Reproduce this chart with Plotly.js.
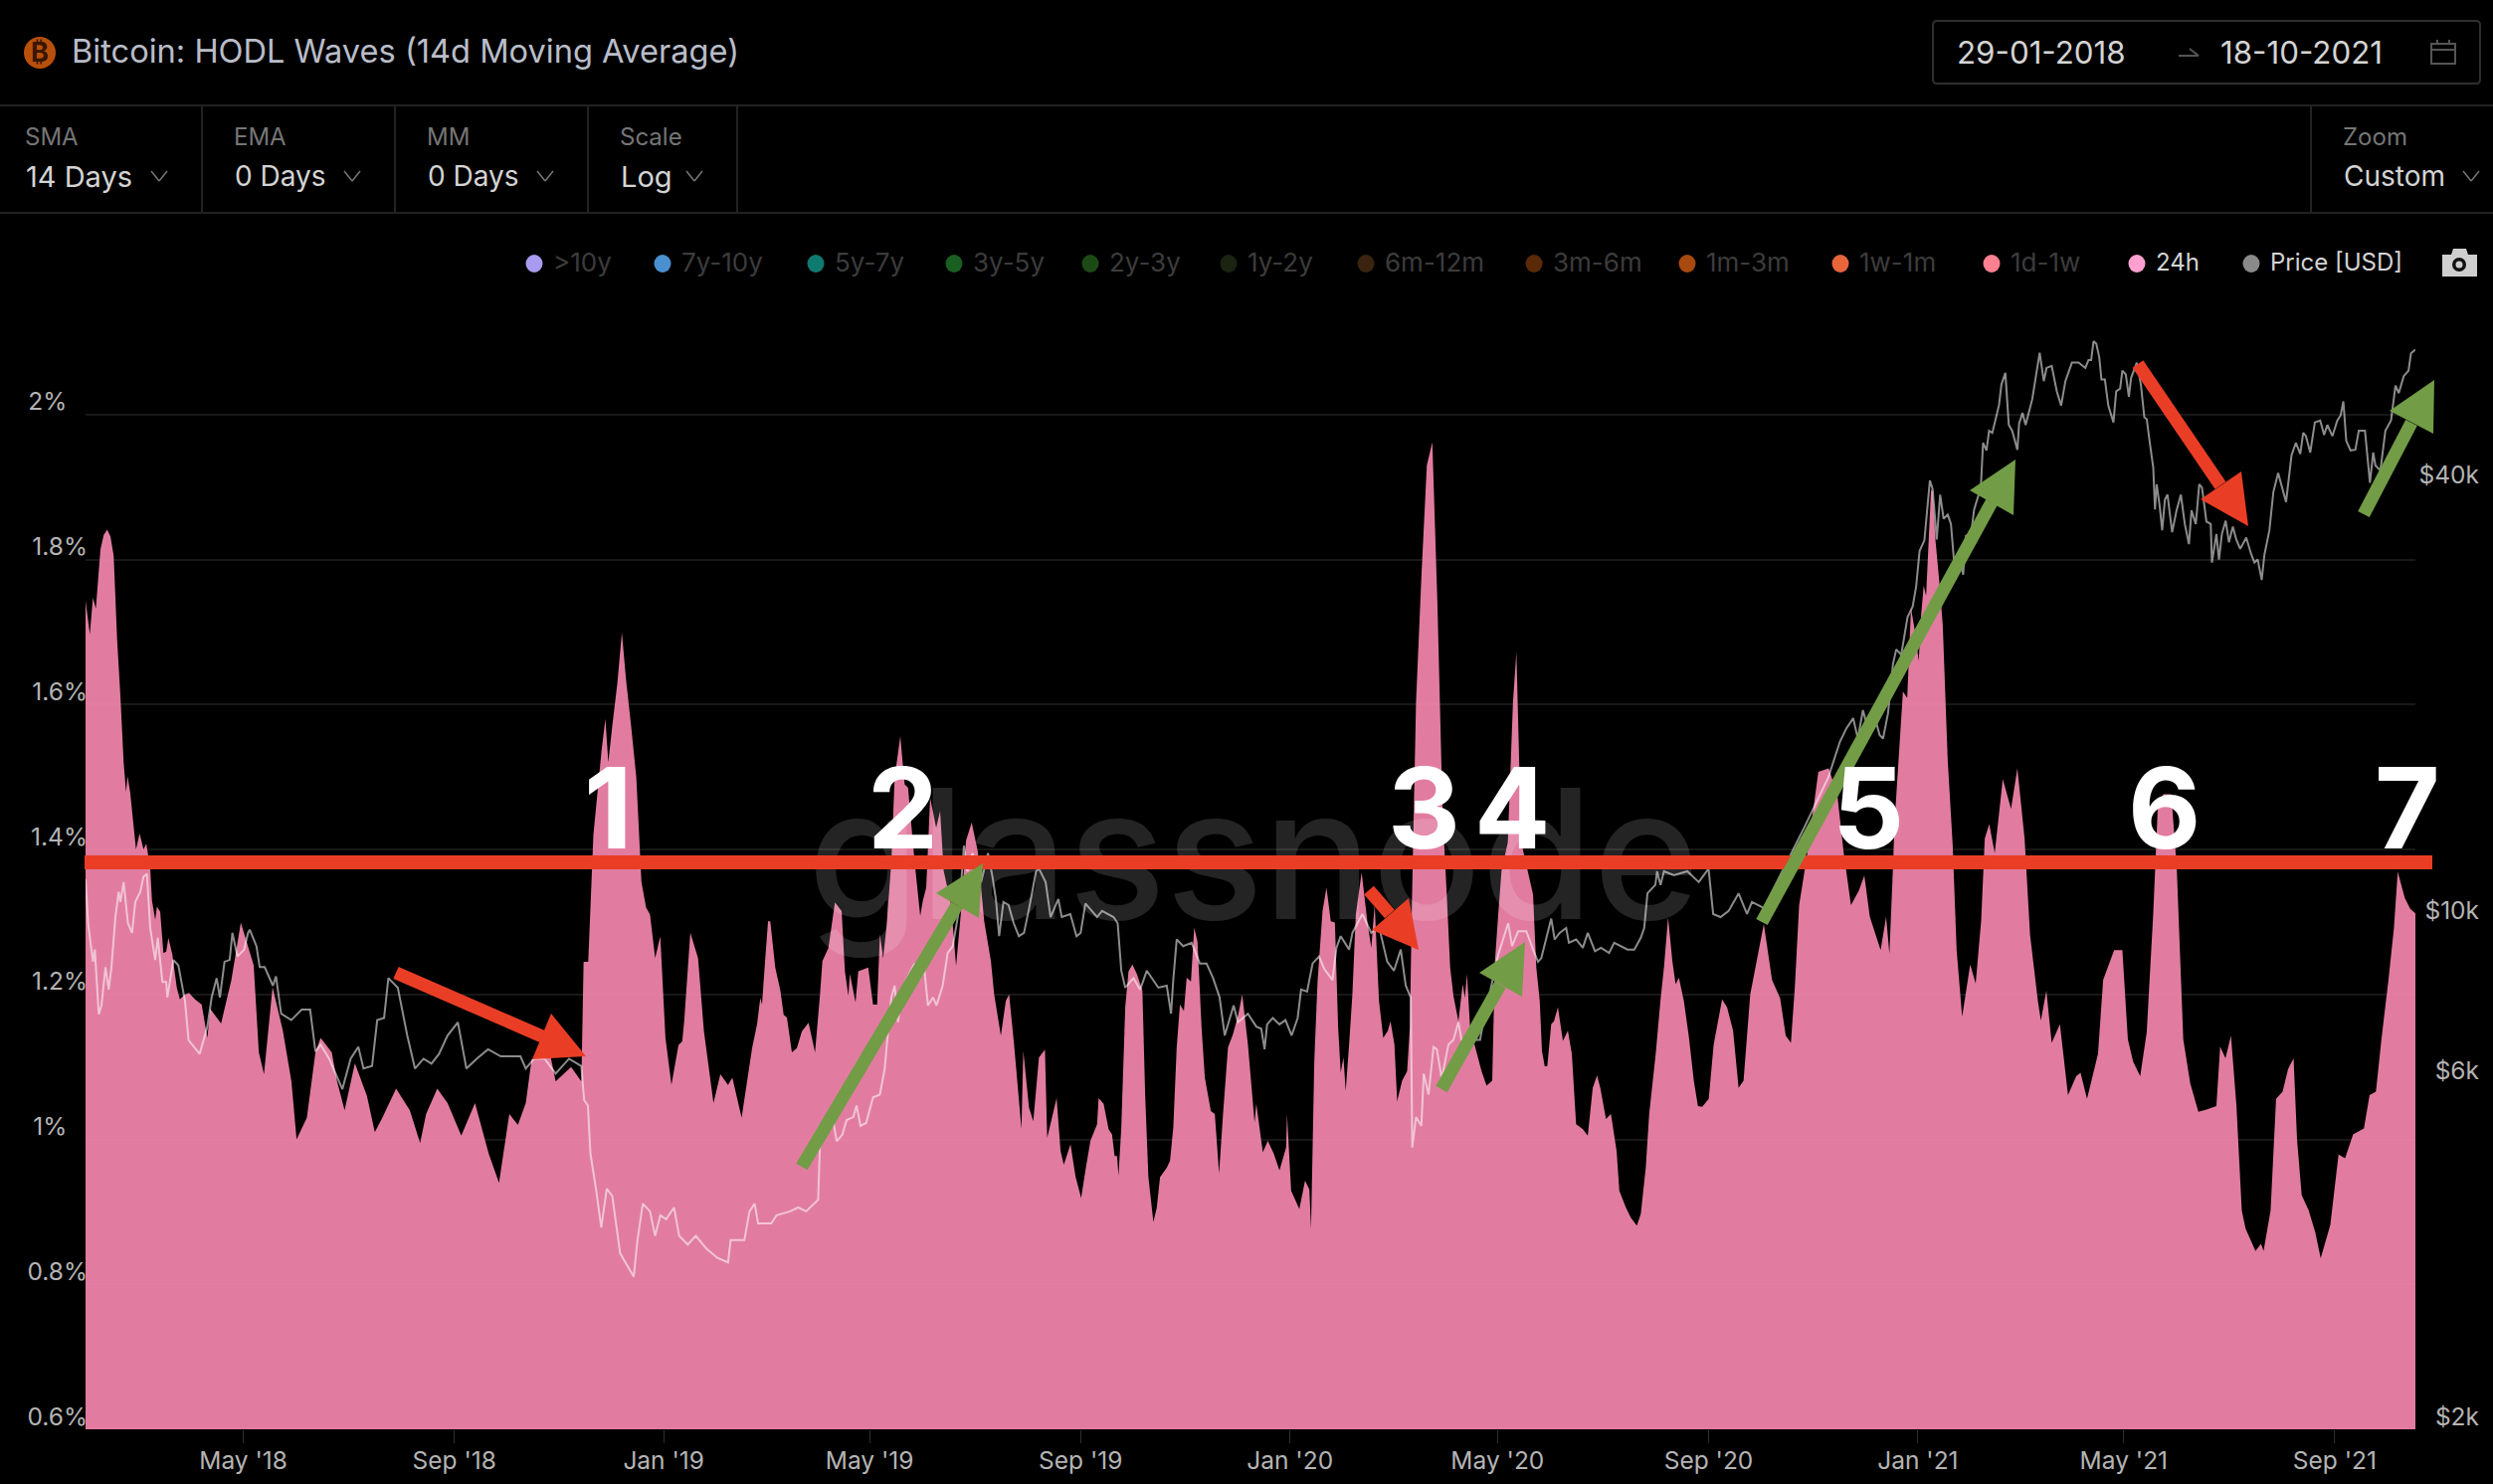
<!DOCTYPE html>
<html>
<head>
<meta charset="utf-8">
<script src="https://cdn.plot.ly/plotly-3.0.1.min.js"></script>
<style>html,body{margin:0;padding:0;background:#000}#chart{width:2506px;height:1492px}</style>
</head>
<body>
<div id="chart"></div>
<script>
const startDate = Date.UTC(2018, 0, 29);
const endDate = '2021-10-18';

// [days since 29-01-2018, share of supply in %]
const hodl24h = [[0,1.743],[2.5,1.697],[4.3,1.747],[6,1.732],[8.7,1.814],[10.6,1.834],[12.6,1.841],[14.5,1.832],[16.4,1.805],[18.4,1.69],[20.3,1.612],[22.2,1.52],[23.6,1.479],[24.5,1.501],[26,1.479],[29.4,1.4],[31.5,1.422],[33.8,1.4],[35.4,1.408],[37.7,1.374],[38.7,1.33],[40.6,1.303],[41.6,1.321],[43.5,1.314],[45.4,1.257],[47,1.259],[48.3,1.278],[50.6,1.255],[53.2,1.209],[55,1.193],[58,1.2],[60.3,1.202],[63.8,1.193],[67.7,1.186],[71,1.14],[72.7,1.18],[79,1.16],[85,1.22],[90.5,1.299],[98,1.24],[101,1.12],[104,1.09],[109,1.21],[115,1.15],[120,1.08],[123,1.0],[129,1.03],[134,1.12],[137,1.14],[143.5,1.12],[146.6,1.08],[151,1.04],[157,1.105],[164,1.06],[168.6,1.01],[173,1.03],[181,1.07],[189,1.04],[195,0.995],[198.5,1.035],[205,1.07],[211,1.05],[219,1.005],[227,1.05],[235,0.98],[241,0.94],[247,1.035],[252,1.02],[256.6,1.05],[260,1.11],[264.5,1.115],[271,1.115],[274,1.08],[283,1.1],[289,1.08],[290.3,1.245],[293,1.245],[296,1.42],[300.7,1.535],[303,1.58],[304.7,1.52],[307,1.57],[310,1.63],[312.6,1.699],[315,1.635],[318,1.57],[321,1.5],[324,1.355],[326.7,1.32],[329,1.31],[332,1.25],[335,1.28],[338,1.14],[341.5,1.075],[345.6,1.13],[347.8,1.135],[349,1.165],[352.5,1.285],[357,1.25],[360.4,1.15],[366,1.05],[370,1.09],[374.5,1.075],[377,1.085],[382.4,1.03],[388.5,1.126],[391.4,1.159],[393.3,1.195],[394.3,1.186],[395.8,1.237],[397.8,1.301],[399.1,1.301],[402,1.237],[405,1.205],[406.9,1.172],[408.8,1.168],[411.7,1.12],[414.6,1.126],[417.5,1.149],[421.4,1.161],[425.2,1.12],[428.1,1.2],[429.5,1.246],[433,1.264],[436.8,1.327],[440.7,1.315],[442.6,1.232],[444.6,1.198],[445.5,1.228],[448.8,1.189],[450.4,1.232],[456.2,1.237],[459,1.186],[461.4,1.186],[463,1.283],[464.9,1.25],[466.8,1.292],[469.7,1.384],[471.6,1.499],[474.9,1.556],[477.4,1.49],[479.4,1.485],[483.2,1.384],[485.2,1.338],[486.5,1.308],[488,1.329],[490,1.347],[492.3,1.471],[495.8,1.43],[498.1,1.453],[500.2,1.37],[504.5,1.324],[507.4,1.239],[510.3,1.315],[513.2,1.412],[516.5,1.437],[520,1.398],[523.8,1.301],[527.7,1.246],[529.6,1.2],[533.5,1.143],[536.4,1.191],[538.3,1.2],[541.2,1.131],[545.5,1.014],[546.6,1.122],[549.9,1.044],[552.4,1.025],[555.7,1.113],[559.2,1.124],[560.5,1.002],[566,1.057],[568.3,0.984],[570.2,0.965],[574.1,0.993],[577,0.949],[580.3,0.919],[582.8,0.957],[585.7,0.998],[589.6,1.021],[590.5,1.057],[593.4,1.049],[596.3,1.014],[598.3,1.007],[599.8,0.977],[601.2,0.977],[602.1,0.95],[603.7,1.016],[606,1.182],[607.9,1.232],[610.2,1.241],[612.8,1.228],[616,1.205],[617.6,1.062],[619.5,0.948],[622.4,0.886],[624.4,0.906],[626.3,0.948],[630.2,0.961],[632.1,0.97],[634,1.016],[636,1.127],[637.9,1.186],[640.2,1.177],[641.8,1.223],[644.3,1.218],[646.2,1.292],[648.1,1.273],[650.5,1.154],[652.4,1.085],[655.9,1.039],[658.2,1.035],[660.7,0.953],[663,1.035],[665.9,1.127],[668.8,1.145],[671.7,1.17],[674.2,1.2],[677.5,1.131],[681.4,1.023],[682.4,1.049],[686.2,0.982],[689.1,0.998],[692.6,0.98],[695.9,0.957],[699.8,0.989],[700.3,1.035],[702.7,0.929],[707.5,0.904],[710.8,0.943],[713.3,0.931],[714.3,0.876],[716.2,1.108],[718.1,1.218],[721,1.315],[723.3,1.347],[725.8,1.301],[728.2,1.299],[730.1,1.154],[731.6,1.092],[733.2,1.113],[734.5,1.067],[736.5,1.131],[738.4,1.2],[740.4,1.31],[743.8,1.368],[747.1,1.301],[749.4,1.264],[751.4,1.324],[753.9,1.191],[756.4,1.14],[759.1,1.15],[760.6,1.163],[762.9,1.131],[764.5,1.053],[767.4,1.081],[770.3,1.094],[771.9,1.154],[773.2,1.338],[775.5,1.603],[778.6,1.775],[781.8,1.93],[785,1.962],[788,1.736],[791,1.449],[793.4,1.338],[795.4,1.237],[797.3,1.198],[800.2,1.163],[802.7,1.214],[804,1.195],[805.2,1.228],[807,1.154],[813.7,1.094],[816.6,1.074],[819.9,1.081],[821.5,1.246],[823.4,1.31],[825.3,1.37],[829,1.41],[832,1.603],[834,1.672],[836.8,1.41],[843.7,1.338],[845.6,1.237],[847.6,1.191],[848.9,1.122],[850.5,1.101],[852,1.101],[854.3,1.159],[855.9,1.163],[858.2,1.182],[861.1,1.136],[864,1.15],[866.3,1.118],[868.8,1.021],[872.7,1.014],[875.6,1.005],[878.5,1.071],[881,1.088],[882.9,1.071],[886.2,1.028],[889.1,1.035],[892.4,0.984],[894,0.929],[897.8,0.906],[900.7,0.892],[904.2,0.881],[906.5,0.897],[909.4,0.961],[911.4,1.035],[915.2,1.118],[918.1,1.195],[920,1.237],[922.4,1.306],[924.9,1.246],[926.8,1.214],[928.7,1.223],[931.6,1.191],[934.6,1.14],[937.4,1.081],[939.8,1.046],[942.3,1.045],[946.1,1.056],[949,1.131],[953.9,1.193],[956.8,1.182],[960.3,1.15],[963.5,1.071],[966.4,1.081],[970.3,1.2],[978.2,1.297],[983,1.22],[987.7,1.195],[991,1.143],[994,1.133],[996.3,1.21],[998.8,1.323],[1003.6,1.395],[1010,1.507],[1016,1.512],[1021,1.476],[1024.8,1.395],[1029,1.323],[1033.6,1.343],[1036.8,1.364],[1040,1.307],[1046.3,1.261],[1049.5,1.307],[1051.4,1.256],[1053.3,1.364],[1054.4,1.436],[1059.3,1.618],[1061.8,1.609],[1064,1.733],[1066,1.705],[1068.5,1.66],[1069.9,1.723],[1071.4,1.764],[1072.8,1.75],[1075.7,1.897],[1076.6,1.892],[1078.2,1.828],[1080.5,1.769],[1082.5,1.71],[1085.4,1.523],[1088.3,1.406],[1090.6,1.261],[1093.8,1.169],[1098.5,1.241],[1101.7,1.215],[1104.9,1.302],[1107,1.415],[1109.6,1.435],[1112.8,1.395],[1117.5,1.497],[1122.3,1.456],[1126,1.512],[1130.2,1.415],[1133.4,1.282],[1138,1.19],[1139.7,1.164],[1142.9,1.205],[1146,1.133],[1150.8,1.159],[1155.5,1.061],[1160.3,1.087],[1162.8,1.092],[1166.6,1.056],[1173,1.118],[1176,1.22],[1182.4,1.261],[1187.2,1.261],[1190.4,1.138],[1193.5,1.107],[1197.6,1.087],[1201.4,1.148],[1205.2,1.312],[1207.8,1.456],[1211,1.476],[1215.7,1.476],[1218.9,1.374],[1222.7,1.138],[1226.8,1.077],[1231.5,1.038],[1236.3,1.041],[1242,1.046],[1244.2,1.128],[1247.3,1.112],[1250.5,1.143],[1253.7,1.046],[1256.8,0.902],[1259,0.877],[1264.8,0.846],[1268,0.856],[1269.5,0.846],[1273.6,0.902],[1276.8,1.056],[1280.6,1.066],[1283.8,1.097],[1287,1.112],[1289,1.0],[1291.7,0.923],[1295.8,0.902],[1299.6,0.872],[1302.8,0.836],[1308.4,0.882],[1313.2,0.979],[1317,0.974],[1321.7,1.007],[1328,1.015],[1331.3,1.061],[1335,1.066],[1338.2,1.138],[1342.3,1.22],[1345.5,1.292],[1347.7,1.369],[1351.8,1.333],[1355,1.318],[1358,1.312]];

// [days since 29-01-2018, price in USD]
const priceUsd = [[0,11500],[1.5,10000],[4.3,8850],[5.4,9200],[7.7,7490],[9.3,7700],[11.6,8700],[13.5,8100],[15.1,8700],[17.4,10200],[19.3,11050],[20.3,10700],[22.2,11400],[24.7,10000],[27.1,9700],[29,10700],[31.9,11050],[33.8,11600],[35.8,11700],[37.7,9850],[40.6,8900],[42.1,9550],[44.8,8300],[47,8300],[47.7,7900],[51.2,8900],[54.1,8750],[58,7800],[60,6900],[66.5,6600],[71,7200],[73.5,7900],[76.4,8400],[78.3,7900],[81,8850],[84,8900],[85.6,9700],[88.5,9000],[92.4,9200],[94.7,9700],[95.7,9800],[99.6,9300],[101.5,8700],[104.4,8700],[109.2,8200],[111,8450],[114,7500],[119.9,7350],[126,7600],[130.9,7600],[134,6650],[137,6800],[142,6500],[149.7,5900],[154.5,6500],[159,6750],[162,6300],[167,6350],[170,7350],[174,7400],[176.5,8400],[182,8150],[187.5,7000],[192,6300],[197,6500],[201.6,6400],[206,6600],[211,7000],[217,7300],[222,6300],[228,6500],[234.6,6700],[242,6550],[253.5,6550],[256.6,6300],[261.4,6500],[267.6,6500],[274,6200],[281.8,6500],[289,6350],[290.6,5700],[292.8,5600],[294.3,4800],[297.5,4300],[300.6,3800],[303.8,4300],[307,4200],[311.6,3500],[319.5,3250],[321.7,3650],[324.8,4100],[329,4000],[332,3700],[335,3950],[338.4,3900],[343,4050],[346,3700],[351,3600],[355.7,3700],[362,3550],[368.3,3450],[374.5,3400],[376,3650],[384,3650],[387,4000],[390,4100],[392,3850],[399.6,3850],[402.8,3950],[410.7,4000],[415.4,4050],[420,4000],[427,4150],[428,4900],[432,5200],[436,5300],[437.8,5000],[441,5100],[443.6,5350],[447.5,5400],[449.4,5600],[451.7,5250],[455,5300],[459,5750],[463,5800],[465.8,6300],[467.8,7100],[469.7,7900],[471.6,8200],[473.6,7300],[475.5,8100],[483.2,8800],[485,8300],[489,8600],[491,7700],[494,7900],[496,7700],[499.6,8200],[502.5,9100],[505.5,9300],[509.3,10500],[512,12800],[514,11800],[517,12500],[522,11400],[526,12500],[528.6,11600],[530.6,10800],[532.5,9600],[535,10700],[538,10600],[541,10000],[544,9600],[547,9700],[550,10500],[554,11800],[555.7,11900],[559.6,11400],[562.5,10200],[567,10800],[569,10200],[574,10300],[577.6,9600],[580,9700],[582.8,10650],[586.7,10400],[589.6,10200],[592.5,10400],[599.2,10200],[601.6,10000],[603.7,8600],[606,8150],[610.8,8400],[614.7,8100],[618.6,8600],[625.3,8150],[630.2,8200],[632.7,7500],[634,8350],[636,9500],[639.8,9300],[644.7,9400],[649.5,8800],[653.4,8800],[657.2,8400],[661,7900],[664,7000],[667,7400],[669.2,7700],[671.7,7300],[677.5,7500],[682.4,7200],[685.3,7150],[687.2,6700],[688.7,7250],[692,7400],[695.9,7250],[699.4,7350],[703,7000],[706.5,7400],[708.5,8100],[712,8050],[715.2,8800],[719,9000],[722,8650],[726.8,8350],[729.1,9250],[731.6,9600],[736.5,9200],[738.4,9700],[744.2,10300],[749.4,9700],[753.9,9900],[758.7,8850],[762.6,8600],[766.6,9200],[769.5,8200],[772.4,7900],[773.3,4900],[775.5,5400],[778.6,5250],[780,6200],[782.8,5800],[785.7,6750],[787.6,6700],[790.5,6100],[794.4,6800],[797.3,6900],[800.2,7300],[802,6900],[812.8,6900],[814.7,7300],[823.4,9050],[829.2,10000],[831.5,9300],[835,9750],[839.8,9750],[843.7,9200],[846.6,8850],[848.5,8950],[851.4,9500],[854.3,10150],[856.3,9500],[859.2,9700],[863,9850],[864.6,9400],[868.8,9500],[872.7,9250],[875.6,9700],[879.8,9150],[883.3,9250],[888,9100],[891,9400],[898.8,9200],[902.7,9200],[906.5,9550],[908.5,9850],[910.4,11000],[915,11300],[916,11800],[918,11300],[920,11800],[925.8,11650],[933.6,11800],[940.3,11400],[946,11900],[948.7,10300],[953,10200],[957.7,10400],[963.5,11000],[968.4,10300],[971.3,10700],[978.2,10500],[996.4,12800],[1002,13600],[1015.8,15900],[1022.5,17800],[1026.4,18600],[1030.3,19200],[1033,18000],[1036,19700],[1038,18900],[1042.8,19300],[1045.7,18200],[1047.7,18000],[1050.6,19500],[1053.5,22800],[1055.4,23900],[1058.3,23500],[1062,26500],[1065,27400],[1067,29200],[1069,32700],[1071.8,33800],[1075,40900],[1076.6,39800],[1079,33900],[1081,39100],[1083,36200],[1085.4,36700],[1087.3,35600],[1089,31800],[1092,32400],[1094.4,30300],[1096,34300],[1099,34500],[1100.8,37300],[1104.7,40000],[1106,46100],[1108,45000],[1109.5,47900],[1111.4,47600],[1115.3,52000],[1116.7,55500],[1119,57600],[1121,48800],[1123,47900],[1126,45100],[1127,49000],[1129,50700],[1130.8,48800],[1134.7,53000],[1137.5,58000],[1139,61400],[1141.4,56100],[1143,58500],[1146,58900],[1149,54300],[1151.5,51900],[1154,56100],[1157.8,59500],[1161.7,59500],[1165.6,58500],[1167.5,60000],[1169,60000],[1170.4,63700],[1172,63200],[1173.7,60600],[1175,56400],[1177,56400],[1179,51900],[1182,49200],[1183.6,54300],[1185.9,54800],[1187.2,58000],[1189.2,57300],[1191,53400],[1192.3,56700],[1195.6,59500],[1198,55500],[1200,50000],[1201.4,49700],[1203.3,45900],[1205.2,42600],[1206.2,37300],[1207.2,40400],[1209,37600],[1210.4,34900],[1212,38500],[1213.5,39100],[1216.2,34700],[1218.8,37200],[1221.3,39100],[1223.6,35600],[1226,33400],[1227.5,37200],[1230,35600],[1232,40400],[1233.6,40000],[1236.2,35900],[1238.7,35600],[1239.4,31500],[1242,34500],[1243.5,31800],[1245.2,34500],[1247.4,36000],[1249.3,33600],[1251.6,35300],[1253.6,33900],[1255.9,32900],[1259.4,34100],[1262.2,32400],[1264.2,31500],[1266.1,31800],[1268.4,29800],[1270,32300],[1272.9,34900],[1275.2,39400],[1278,41900],[1282.6,38200],[1285.8,44300],[1288.3,46100],[1290.9,44500],[1292.6,47600],[1294.2,47100],[1296.7,44700],[1299.4,49200],[1302.5,49500],[1304.8,47300],[1306.7,48800],[1309.6,47100],[1312.5,49500],[1314.4,50300],[1316,52600],[1317.7,46400],[1320.2,45000],[1323,45100],[1325,47900],[1328.6,47900],[1331.5,40600],[1333.4,44700],[1334.7,42900],[1337.6,42200],[1340.5,47900],[1343.8,49500],[1346.4,55300],[1348.3,54000],[1351.2,57000],[1354,58000],[1355.4,61300],[1358,62000]];

const pctTicks = [0.6,0.8,1,1.2,1.4,1.6,1.8,2,2.2];
const pctLabels = ['0.6%','0.8%','1%\u00a0\u00a0\u00a0','1.2%','1.4%','1.6%','1.8%','2%\u00a0\u00a0\u00a0',''];
const priceTicks = [2000,6000,10000,40000];
const priceLabels = ['$2k','$6k','$10k','$40k'];

const legendNames = ['>10y','7y-10y','5y-7y','3y-5y','2y-3y','1y-2y','6m-12m','3m-6m','1m-3m','1w-1m','1d-1w','24h','Price [USD]'];
const legendColors = ['#a99cf0','#4a90d0','#0f7a70','#1a5f22','#1c4a15','#1a2410','#3a2410','#5a2a08','#a84a10','#e8653c','#ff8090','#ffa0d0','#8a8a8a'];
const legendActive = ['24h','Price [USD]'];

const controlNames = ['SMA','EMA','MM','Scale','Zoom'];
const controlValues = ['14 Days','0 Days','0 Days','Log','Custom'];

const toDate = d => new Date(startDate + d*864e5).toISOString();
const FONT = 'Inter, "Noto Sans", sans-serif';
const W = 2406, H = 1166;
const px = x => (x-86)/W, py = y => (1437-y)/H;

const shapes = [], annotations = [];
const line = (x0,y0,x1,y1,color,width) => shapes.push({type:'line',xref:'paper',yref:'paper',x0:px(x0),y0:py(y0),x1:px(x1),y1:py(y1),line:{color,width}});
const rect = (x0,y0,x1,y1,fill,stroke,w) => shapes.push({type:'rect',xref:'paper',yref:'paper',x0:px(x0),y0:py(y0),x1:px(x1),y1:py(y1),fillcolor:fill||'rgba(0,0,0,0)',line:{color:stroke||'rgba(0,0,0,0)',width:w||0}});
const oval = (cx,cy,rx,ry,fill) => shapes.push({type:'circle',xref:'paper',yref:'paper',x0:px(cx-rx),y0:py(cy+ry),x1:px(cx+rx),y1:py(cy-ry),fillcolor:fill,line:{width:0}});
const poly = (pts,fill) => shapes.push({type:'path',xref:'paper',yref:'paper',path:'M'+pts.map(p=>px(p[0])+','+py(p[1])).join(' L')+' Z',fillcolor:fill,line:{width:0}});
const text = (t,x,y,size,color,anchor,weight) => annotations.push({text:t,xref:'paper',yref:'paper',x:px(x),y:py(y),xanchor:anchor||'left',yanchor:'middle',showarrow:false,borderpad:0,font:{family:FONT,size,color,weight:weight||400}});
const chevron = (cx,cy) => { line(cx-8,cy-5,cx,cy+5,'#777',1.5); line(cx,cy+5,cx+8,cy-5,'#777',1.5); };
const arrow = (start,baseMid,c1,c2,tip,color) => { line(start[0],start[1],baseMid[0],baseMid[1],color,13); poly([c1,tip,c2],color); };

// header
line(0,106,2506,106,'#222',2); line(0,214,2506,214,'#222',2);
[203,397,591,741,2323].forEach(x=>line(x,106,x,214,'#222',2));
oval(40,53,16,16,'#b8500c');
text('₿',40,53,27,'#3a1600','center',700);
text('Bitcoin: HODL Waves (14d Moving Average)',71,51,32.6,'#b9bdc9');
const ctlX = [24,234,428,622,2354], chevX = [160,354,548,698,2484], ctlSize = [29,28,28,29,28];
controlNames.forEach((n,i)=>{ text(n,ctlX[i],138,24,'#757575'); text(controlValues[i],ctlX[i]+1,177,ctlSize[i],'#d4d4d4'); chevron(chevX[i],177); });
// date box
shapes.push({type:'path',xref:'paper',yref:'paper',path:'M'+px(1947)+','+py(21)+' L'+px(2489)+','+py(21)+' Q'+px(2493)+','+py(21)+' '+px(2493)+','+py(25)+' L'+px(2493)+','+py(80)+' Q'+px(2493)+','+py(84)+' '+px(2489)+','+py(84)+' L'+px(1947)+','+py(84)+' Q'+px(1943)+','+py(84)+' '+px(1943)+','+py(80)+' L'+px(1943)+','+py(25)+' Q'+px(1943)+','+py(21)+' '+px(1947)+','+py(21)+' Z',line:{color:'#2e2e2e',width:2}});
text('29-01-2018',1966,53,31.3,'#d4d4d4');
text('18-10-2021',2231,53,31.3,'#d4d4d4');
line(2190,56,2210,56,'#555',2); line(2210,56,2201,49,'#555',2);
rect(2444,44,2468,64,null,'#555',2); line(2444,50,2468,50,'#555',2); line(2450,40,2450,45,'#555',2); line(2462,40,2462,45,'#555',2);

// legend
const legendDots = [537,666,820,959,1096,1235,1373,1542,1696,1850,2002,2148,2263];
legendNames.forEach((n,i)=>{
  const on = legendActive.includes(n);
  oval(legendDots[i],265,8.5,9,legendColors[i]);
  text(n,legendDots[i]+18,264,on?24:26,on?'#d4d4d4':'#3c3c3c');
});
// camera
poly([[2455,256],[2464,256],[2466,250],[2479,250],[2481,256],[2490,256],[2490,278],[2455,278]],'#cfcfcf');
oval(2472,266,7,7,'#111'); oval(2472,266,3.5,3.5,'#cfcfcf');

// threshold and arrows
rect(85,860,2445,874,'#e93e25');
const RED='#e93e25', GREEN='#739c46';
arrow([398,978],[545,1042],[554,1019],[535,1065],[589,1062],RED);
arrow([1376,895],[1397,919],[1416,903],[1379,935],[1426,955],RED);
arrow([2149,366],[2232,488],[2253,474],[2212,502],[2260,529],RED);
arrow([806,1173],[962,910],[941,898],[984,923],[988,868],GREEN);
arrow([1449,1095],[1508,990],[1487,978],[1530,1002],[1533,947],GREEN);
arrow([1771,927],[2002,505],[1980,493],[2024,518],[2026,462],GREEN);
arrow([2376,517],[2424,425],[2402,413],[2446,436],[2447,382],GREEN);

// peak numbers
[['1',611],['2',907],['3',1431],['4',1520],['5',1878],['6',2175],['7',2420]].forEach(p=>text(p[0],p[1],812,113,'#fff','center',700));

const traces = [
  {name:'24h',type:'scatter',mode:'none',x:hodl24h.map(p=>toDate(p[0])),y:hodl24h.map(p=>p[1]),fill:'tozeroy',fillcolor:'rgba(250,137,177,0.9)',hoverinfo:'x+y'},
  {name:'glassnode',type:'scatter',mode:'text',x:[toDate(680.8)],y:[1.366],text:['glassnode'],textposition:'middle center',textfont:{family:FONT,size:182,weight:500,color:'rgba(255,255,255,0.14)'},hoverinfo:'skip'},
  {name:'Price [USD]',type:'scatter',mode:'lines',x:priceUsd.map(p=>toDate(p[0])),y:priceUsd.map(p=>p[1]),yaxis:'y2',line:{color:'rgba(255,255,255,0.55)',width:2}}
];

const tickFont = {family:FONT,size:24.5,color:'#b4b4b4'};
const layout = {
  width:2506,height:1492,autosize:false,showlegend:false,
  paper_bgcolor:'#000',plot_bgcolor:'#000',
  margin:{l:86,r:14,t:271,b:55,pad:0},
  font:{family:FONT},
  xaxis:{type:'date',domain:[0,2342/2406],range:[toDate(0),endDate],dtick:'M4',tick0:'2018-01-01',tickformat:"%b '%y",
    showgrid:false,zeroline:false,showline:false,ticks:'outside',ticklen:13,tickwidth:1,tickcolor:'#2e2e2e',tickfont:tickFont,ticklabelstandoff:-3},
  yaxis:{range:[0.6,2.2],tickmode:'array',tickvals:pctTicks,ticktext:pctLabels,showgrid:true,gridcolor:'#181818',gridwidth:1.5,zeroline:false,showline:false,ticks:'',tickfont:tickFont,ticklabelshift:-13,ticklabelstandoff:-3},
  yaxis2:{type:'log',range:[Math.log10(2000),Math.log10(80000)],overlaying:'y',side:'left',anchor:'free',position:1,tickmode:'array',tickvals:priceTicks,ticktext:priceLabels,showgrid:false,zeroline:false,showline:false,ticks:'',tickfont:tickFont,ticklabelshift:-13},
  shapes,annotations
};
Plotly.newPlot('chart',traces,layout,{displayModeBar:false,responsive:false});
</script>
</body>
</html>
